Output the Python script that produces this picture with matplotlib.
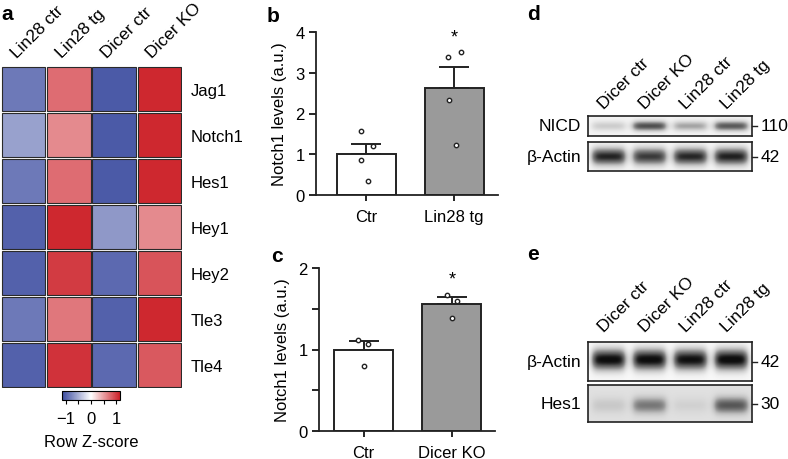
import numpy as np
import matplotlib
matplotlib.use("Agg")
import matplotlib.pyplot as plt
from matplotlib.patches import Rectangle
from matplotlib.colors import LinearSegmentedColormap, Normalize
from matplotlib.cm import ScalarMappable

plt.rcParams['font.family'] = ['Liberation Sans', 'DejaVu Sans']
plt.rcParams['font.size'] = 12

# ---- data ----
heat_cols = ["Lin28 ctr", "Lin28 tg", "Dicer ctr", "Dicer KO"]
heat_rows = ["Jag1", "Notch1", "Hes1", "Hey1", "Hey2", "Tle3", "Tle4"]
heat_z = np.array([
    [-0.85, 0.75, -1.05, 1.10],
    [-0.60, 0.60, -1.05, 1.10],
    [-0.85, 0.75, -1.05, 1.10],
    [-1.00, 1.10, -0.65, 0.60],
    [-1.00, 1.00, -0.95, 0.88],
    [-0.85, 0.70, -1.00, 1.10],
    [-1.00, 1.05, -0.95, 0.85],
])

b_groups = ["Ctr", "Lin28 tg"]
b_means = [1.0, 2.62]
b_sem = [0.26, 0.53]
b_points = [[1.57, 1.20, 0.86, 0.35], [3.39, 3.51, 2.33, 1.23]]
b_jitter = [[-0.06, 0.07, -0.06, 0.02], [-0.07, 0.08, -0.06, 0.02]]

c_groups = ["Ctr", "Dicer KO"]
c_means = [1.0, 1.56]
c_sem = [0.10, 0.08]
c_points = [[1.12, 1.07, 0.80], [1.67, 1.60, 1.39]]
c_jitter = [[-0.06, 0.05, 0.0], [-0.05, 0.06, 0.0]]

lanes = ["Dicer ctr", "Dicer KO", "Lin28 ctr", "Lin28 tg"]
d_nicd = [0.22, 0.70, 0.38, 0.66]
d_actin = [0.85, 0.78, 0.84, 0.86]
e_actin = [0.97, 0.97, 0.95, 0.98]
e_hes1 = [0.12, 0.42, 0.08, 0.55]

bar_colors = ["white", "#9a9a9a"]
ink = "#222222"
cmap = LinearSegmentedColormap.from_list("bwr_z", ["#3a4a9f", "#ffffff", "#cc1f27"])
norm = Normalize(vmin=-1.15, vmax=1.15)

W, H = 788, 460
fig = plt.figure(figsize=(W / 100, H / 100), dpi=100)


def px_axes(x0, y0, x1, y1):
    return fig.add_axes([x0 / W, 1 - y1 / H, (x1 - x0) / W, (y1 - y0) / H])


# ---- a: heatmap ----
ax = px_axes(1, 67, 182, 389)
g = 0.022
for i in range(len(heat_rows)):
    for j in range(len(heat_cols)):
        ax.add_patch(Rectangle((j + g, i + g), 1 - 2 * g, 1 - 2 * g,
                               facecolor=cmap(norm(heat_z[i, j])),
                               edgecolor="#2a2a2a", lw=0.8))
ax.set_xlim(0, 4)
ax.set_ylim(7, 0)
ax.set_xticks([])
ax.set_yticks(np.arange(len(heat_rows)) + 0.5)
ax.set_yticklabels(heat_rows)
ax.yaxis.tick_right()
ax.tick_params(axis="y", length=0, pad=6)
for s in ax.spines.values():
    s.set_visible(False)
for j, lab in enumerate(heat_cols):
    ax.annotate(lab, xy=(j + 0.5, 0), xycoords="data", xytext=(-5, 6),
                textcoords="offset points", rotation=45, ha="left",
                va="baseline", rotation_mode="anchor", fontsize=12.5)

cax = px_axes(62, 392, 120, 401)
cb = fig.colorbar(ScalarMappable(norm=norm, cmap=cmap), cax=cax, orientation="horizontal")
cb.set_ticks([-1, -0.5, 0, 0.5, 1])
cb.set_ticklabels(["\u22121", "", "0", "", "1"])
cb.outline.set_linewidth(0.8)
cax.tick_params(length=3, width=0.8, pad=5)
cax.set_xlabel("Row Z-score", labelpad=6)

fig.text(1 / W, 1 - 14 / H, "a", fontsize=15, fontweight="bold", ha="left", va="center")


# ---- b, c: bar charts ----
def bar_panel(ax, groups, means, sem, points, jitter, ymax, star_y, minor=None):
    x = np.arange(len(groups))
    ax.errorbar(x, means, yerr=[np.zeros(len(x)), sem], fmt="none", ecolor=ink,
                elinewidth=1.4, capsize=11, capthick=1.4, zorder=1)
    ax.bar(x, means, width=0.67, color=bar_colors, edgecolor=ink, lw=1.4, zorder=2)
    for k in range(len(x)):
        ax.scatter(x[k] + np.array(jitter[k]), points[k], s=10, facecolor="white",
                   edgecolor=ink, lw=1.0, zorder=3)
    ax.text(1, star_y, "*", ha="center", va="center", fontsize=13)
    ax.set_ylim(0, ymax)
    ax.set_yticks(np.arange(0, ymax + 1))
    if minor is not None:
        ax.set_yticks(minor, minor=True)
    ax.set_xticks(x)
    ax.set_xticklabels(groups)
    ax.set_ylabel("Notch1 levels (a.u.)", labelpad=6)
    for s in ["top", "right"]:
        ax.spines[s].set_visible(False)
    for s in ["left", "bottom"]:
        ax.spines[s].set_linewidth(1.3)
        ax.spines[s].set_color(ink)
    ax.tick_params(axis="y", length=5, width=1.2, pad=3, which="both")
    ax.tick_params(axis="x", length=4, width=1.2, pad=6)


axb = px_axes(316, 33, 498, 196)
bar_panel(axb, b_groups, b_means, b_sem, b_points, b_jitter, 4, 3.88)
axb.set_xlim(-0.574, 1.5)
fig.text(273 / W, 1 - 17 / H, "b", fontsize=15, fontweight="bold", ha="center", va="center")

axc = px_axes(319, 269, 495, 432)
bar_panel(axc, c_groups, c_means, c_sem, c_points, c_jitter, 2, 1.87, minor=[0.5, 1.5])
axc.set_xlim(-0.505, 1.49)
fig.text(277 / W, 1 - 257 / H, "c", fontsize=15, fontweight="bold", ha="center", va="center")


# ---- d, e: blots ----
def blot(ax, levels, bg, band_h, band_y=0.5, nx=200, ny=60):
    xs = np.linspace(0, 4, nx)
    ys = np.linspace(0, 1, ny)[:, None]
    img = np.full((ny, nx), bg)
    for k, lv in enumerate(levels):
        c = k + 0.5
        xprof = 1 / (1 + np.exp((np.abs(xs - c) - 0.40) / 0.05))
        yprof = np.exp(-((ys - band_y) / band_h) ** 2)
        img = img + lv * xprof[None, :] * yprof
    ax.imshow(np.clip(img, 0, 1), cmap="Greys", vmin=0, vmax=1.05, extent=[0, 4, 1, 0],
              aspect="auto", interpolation="bilinear")
    ax.set_xlim(0, 4)
    ax.set_ylim(1, 0)
    ax.set_xticks([])
    ax.set_yticks([])
    for s in ax.spines.values():
        s.set_linewidth(1.2)
        s.set_color(ink)


def blot_labels(ax, name, size):
    ax.text(-0.04, 0.5, name, transform=ax.transAxes, ha="right", va="center", fontsize=12.5)
    ax.plot([1.0, 1.03], [0.5, 0.5], transform=ax.transAxes, color=ink, lw=1.0, clip_on=False)
    ax.text(1.05, 0.5, size, transform=ax.transAxes, ha="left", va="center", fontsize=12.5)


def lane_labels(ax, dy):
    for k, lab in enumerate(lanes):
        ax.annotate(lab, xy=(k + 0.5, 0), xycoords="data", xytext=(-3, dy),
                    textcoords="offset points", rotation=45, ha="left",
                    va="baseline", rotation_mode="anchor", fontsize=12.5)


ax1 = px_axes(588, 117, 752, 137)
blot(ax1, d_nicd, 0.10, 0.25)
blot_labels(ax1, "NICD", "110")
lane_labels(ax1, 5)
ax2 = px_axes(588, 143, 752, 172)
blot(ax2, d_actin, 0.08, 0.30)
blot_labels(ax2, "\u03b2-Actin", "42")
fig.text(533 / W, 1 - 15 / H, "d", fontsize=15, fontweight="bold", ha="center", va="center")

ax3 = px_axes(588, 343, 752, 382)
blot(ax3, e_actin, 0.05, 0.28, band_y=0.45)
blot_labels(ax3, "\u03b2-Actin", "42")
lane_labels(ax3, 7)
ax4 = px_axes(588, 386, 752, 423)
blot(ax4, e_hes1, 0.22, 0.22, band_y=0.55)
blot_labels(ax4, "Hes1", "30")
fig.text(533 / W, 1 - 255 / H, "e", fontsize=15, fontweight="bold", ha="center", va="center")

fig.savefig("out.png", dpi=100)
